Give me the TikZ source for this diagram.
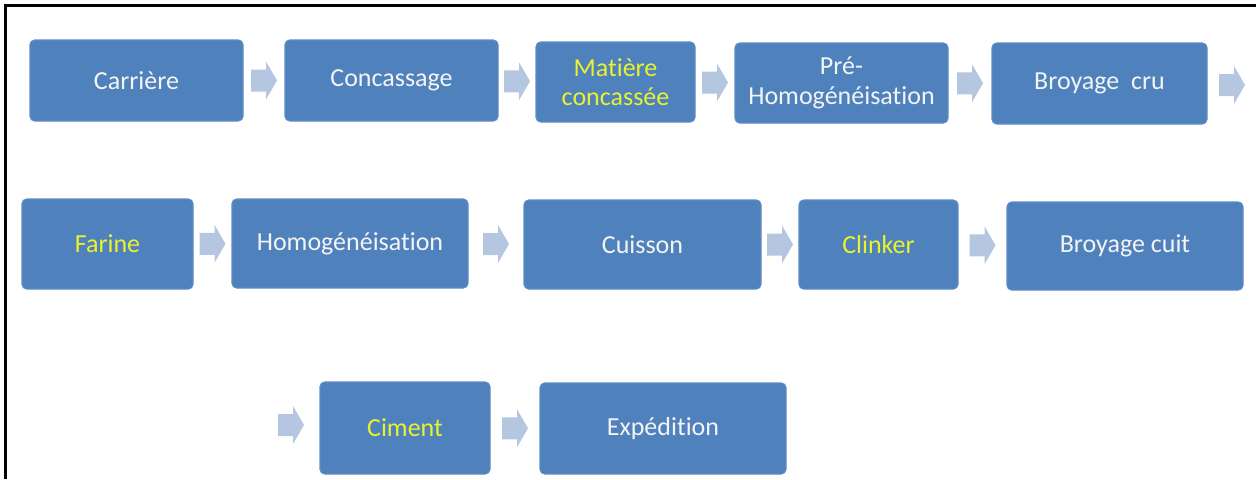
\documentclass[tikz,border=0pt]{standalone}
\usepackage{fontspec}
\setmainfont[Ligatures=NoCommon]{Carlito}
\usetikzlibrary{calc}
\definecolor{boxblue}{HTML}{4F81BD}
\definecolor{boxedge}{HTML}{5E8CC4}
\definecolor{arrowc}{HTML}{B4C6E0}
\definecolor{txtw}{HTML}{F4F4F4}
\definecolor{txty}{HTML}{EAF230}
\begin{document}
\begin{tikzpicture}[x=0.75pt,y=-0.75pt,
  box/.style={draw=boxedge,line width=0.8pt,fill=boxblue,rounded corners=3.5pt,
    inner sep=0pt,align=center,text=txtw,
    font=\fontsize{19.5}{22}\selectfont},
  hl/.style={text=txty},
  bw/.style 2 args={minimum width=#1*0.75pt,minimum height=#2*0.75pt},
  barrow/.pic={\fill[arrowc] (-13,-11) -- (2,-11) -- (2,-19) -- (13,0) -- (2,19) -- (2,11) -- (-13,11) -- cycle;}
]
\useasboundingbox (0,0) rectangle (1256,479);
% frame (top and left only)
\draw[line width=1.6pt] (5.5,479) -- (5.5,5.5) -- (1256,5.5);
% row 1
\node[box,bw={213}{81}] (carr) at (136.5,80.5) {Carri\`ere};
\node[box,bw={213}{81}] (conc) at (391.5,80.5) {Concassage};
\node[box,hl,bw={159}{80}] (mat) at (615.5,82) {Mati\`ere\\concass\'ee};
\node[box,bw={213}{80}] (pre) at (841.5,83) {Pr\'e-\\Homog\'en\'eisation};
\node[box,bw={215}{81}] (bcru) at (1099.5,83.5) {Broyage\ \ cru};
\coordinate (wrap1) at (1232,85);
% row 2
\node[box,hl,bw={171}{90}] (far) at (107.5,244) {Farine};
\node[box,bw={236}{89}] (homo) at (350,243.5) {Homog\'en\'eisation};
\node[box,bw={237}{89}] (cuis) at (642.5,244.5) {Cuisson};
\node[box,hl,bw={159}{89}] (clin) at (878.5,244.5) {Clinker};
\node[box,bw={236}{88}] (bcuit) at (1125,246) {Broyage cuit};
% row 3
\coordinate (wrap2) at (291,425);
\node[box,hl,bw={170}{92}] (cim) at (405,428) {Ciment};
\node[box,bw={246}{91}] (exp) at (663,428.5) {Exp\'edition};
% block arrows
\pic at ($(carr.east)!.5!(conc.west)$) {barrow};
\pic at ($(conc.east)!.5!(mat.west)$) {barrow};
\pic at ($(mat.east)!.5!(pre.west)$) {barrow};
\pic at ($(pre.east)!.5!(bcru.west)$) {barrow};
\pic at (wrap1) {barrow};
\pic at ($(far.east)!.5!(homo.west)$) {barrow};
\pic at ($(homo.east)!.5!(cuis.west)$) {barrow};
\pic at ($(cuis.east)!.5!(clin.west)$) {barrow};
\pic at ($(clin.east)!.5!(bcuit.west)$) {barrow};
\pic at (wrap2) {barrow};
\pic at ($(cim.east)!.5!(exp.west)$) {barrow};
\end{tikzpicture}
\end{document}
